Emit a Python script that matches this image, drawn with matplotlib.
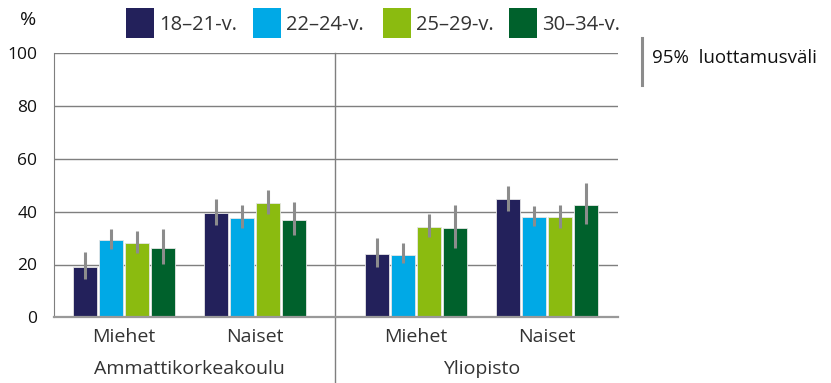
import matplotlib
matplotlib.use("Agg")
import matplotlib.pyplot as plt
import numpy as np

plt.rcParams['font.family'] = ['Open Sans', 'DejaVu Sans']

# Data: share (%) by age group, with 95% confidence interval bounds
age_groups = ["18–21-v.", "22–24-v.", "25–29-v.", "30–34-v."]
genders = ["Miehet", "Naiset", "Miehet", "Naiset"]
institutions = ["Ammattikorkeakoulu", "Yliopisto"]

values = {
    "18–21-v.": [19.1, 39.6, 24.1, 44.7],
    "22–24-v.": [29.1, 37.7, 23.7, 37.9],
    "25–29-v.": [28.0, 43.2, 34.1, 37.9],
    "30–34-v.": [26.3, 37.0, 33.9, 42.7],
}
ci_low = {
    "18–21-v.": [14.5, 35.0, 19.1, 40.2],
    "22–24-v.": [25.8, 34.0, 20.5, 34.6],
    "25–29-v.": [24.3, 39.2, 30.5, 34.0],
    "30–34-v.": [20.3, 31.2, 26.3, 35.2],
}
ci_high = {
    "18–21-v.": [24.8, 44.7, 30.1, 49.6],
    "22–24-v.": [33.5, 42.5, 28.1, 42.2],
    "25–29-v.": [32.7, 48.4, 39.1, 42.6],
    "30–34-v.": [33.4, 43.6, 42.7, 50.9],
}
y_ticks = [0, 20, 40, 60, 80, 100]

colors = ["#23215b", "#00a9e6", "#8bbb10", "#00612c"]
text_color = "#333333"
grid_color = "#7f7f7f"
err_color = "#8c8c8c"

fig = plt.figure(figsize=(8.31, 3.83), dpi=100)
ax = fig.add_axes([54 / 831, 1 - 317.3 / 383, (618 - 54) / 831, (317.3 - 53.3) / 383])

group_x = np.array([0.0, 1.0, 2.229, 3.229])
pitch = 0.197
width = 0.183
offsets = (np.arange(4) - 1.5) * pitch

for i, ag in enumerate(age_groups):
    xs = group_x + offsets[i]
    v = np.array(values[ag])
    lo = np.array(ci_low[ag])
    hi = np.array(ci_high[ag])
    ax.bar(xs, v, width=width, color=colors[i], edgecolor="#e6e6e6",
           linewidth=0.6, zorder=3, label=ag)
    ax.vlines(xs, lo, hi, color=err_color, linewidth=2.2, zorder=4)

ax.set_xlim(-0.534, 3.771)
ax.set_ylim(0, 100)
ax.set_yticks(y_ticks)
ax.set_yticklabels([str(t) for t in y_ticks], fontsize=12.5, color="#111111")
ax.tick_params(axis="y", length=0, pad=12)
ax.set_xticks([])

for y in y_ticks[1:]:
    ax.axhline(y, color=grid_color, linewidth=1.0, zorder=1)

for s in ["top", "right"]:
    ax.spines[s].set_visible(False)
ax.spines["left"].set_color(grid_color)
ax.spines["bottom"].set_color("#999999")
ax.spines["bottom"].set_linewidth(1.6)
ax.spines["bottom"].set_zorder(5)

# Divider between institutions, extending below the axis
div_x = (group_x[1] + group_x[2]) / 2
ax.plot([div_x, div_x], [100, -25], color=grid_color, linewidth=1.0,
        clip_on=False, zorder=2)

# Category labels
for gx, g in zip(group_x, genders):
    ax.text(gx, -7.3, g, ha="center", va="center", fontsize=14,
            color=text_color)
for k, inst in enumerate(institutions):
    cx = (group_x[2 * k] + group_x[2 * k + 1]) / 2
    ax.text(cx, -19.6, inst, ha="center", va="center", fontsize=14,
            color=text_color)

fig.text(28 / 831, 1 - 20 / 383, "%", ha="center", va="center",
         fontsize=14, color="#111111")

# Legend
leg_sq_x = [126, 253, 383.3, 509.3]
for i, ag in enumerate(age_groups):
    fig.patches.append(plt.Rectangle((leg_sq_x[i] / 831, 1 - 37.7 / 383),
                                     27.7 / 831, 29.7 / 383,
                                     transform=fig.transFigure,
                                     facecolor=colors[i], edgecolor="none"))
    fig.text((leg_sq_x[i] + 33) / 831, 1 - 24.5 / 383, ag, ha="left",
             va="center", fontsize=14.5, color=text_color)

fig.add_artist(plt.Line2D([641.7 / 831, 641.7 / 831],
                          [1 - 38.3 / 383, 1 - 85 / 383],
                          color=err_color, linewidth=2.2,
                          transform=fig.transFigure))
fig.text(651.7 / 831, 1 - 58 / 383, "95%  luottamusväli", ha="left",
         va="center", fontsize=13.5, color="#111111")

fig.savefig("out.png", dpi=100)
